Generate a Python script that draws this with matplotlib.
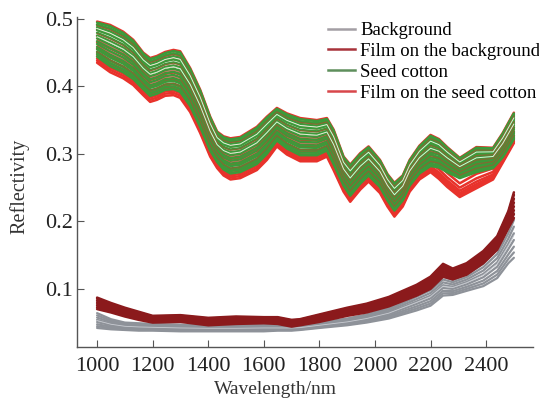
import matplotlib
matplotlib.use("Agg")
import matplotlib.pyplot as plt
import numpy as np

plt.rcParams['font.family'] = ['Liberation Serif', 'DejaVu Serif']

# ---- Upper group (seed cotton / film on seed cotton), wavelength nodes (nm)
wl_hi = [1000, 1047, 1094, 1130, 1166, 1191, 1215, 1245, 1275, 1299,
         1335, 1371, 1407, 1432, 1455, 1480, 1515, 1575, 1611, 1647,
         1683, 1731, 1791, 1827, 1851, 1887, 1911, 1947, 1977, 2018,
         2045, 2070, 2100, 2125, 2160, 2200, 2230, 2260, 2305, 2365,
         2425, 2460, 2500]
top_hi = [0.496, 0.491, 0.481, 0.469, 0.450, 0.442, 0.445, 0.451, 0.454, 0.452,
          0.427, 0.395, 0.355, 0.333, 0.326, 0.323, 0.325, 0.340, 0.355, 0.368,
          0.360, 0.353, 0.350, 0.353, 0.336, 0.296, 0.284, 0.301, 0.311, 0.291,
          0.270, 0.257, 0.268, 0.291, 0.312, 0.328, 0.322, 0.310, 0.294, 0.310,
          0.309, 0.331, 0.361]
red_bottom_hi = [0.435, 0.421, 0.412, 0.402, 0.387, 0.377, 0.380, 0.386, 0.387, 0.383,
                 0.362, 0.331, 0.296, 0.279, 0.268, 0.262, 0.264, 0.276, 0.291, 0.311,
                 0.299, 0.289, 0.289, 0.296, 0.276, 0.244, 0.229, 0.247, 0.259, 0.242,
                 0.222, 0.207, 0.222, 0.244, 0.262, 0.273, 0.263, 0.251, 0.236, 0.249,
                 0.262, 0.287, 0.316]
green_bottom_hi = [0.444, 0.430, 0.421, 0.411, 0.396, 0.386, 0.389, 0.395, 0.396, 0.392,
                   0.371, 0.340, 0.305, 0.288, 0.277, 0.271, 0.273, 0.285, 0.300, 0.320,
                   0.308, 0.298, 0.298, 0.305, 0.285, 0.253, 0.238, 0.256, 0.268, 0.251,
                   0.231, 0.216, 0.231, 0.253, 0.271, 0.282, 0.280, 0.273, 0.264, 0.273,
                   0.279, 0.295, 0.322]

# positions of individual spectra within each band (0 = band bottom, 1 = band top)
red_hi_pos = [0.0, 0.05, 0.1, 0.16, 0.24, 0.35, 0.5, 0.65, 0.8, 0.92, 1.0]
green_hi_pos = [0.0, 0.07, 0.14, 0.21, 0.28, 0.36, 0.44, 0.52, 0.6, 0.68, 0.76, 0.84, 0.91, 0.97]
red_streak_pos = [0.15, 0.32, 0.48, 0.66, 0.88]
light_pos = [0.57, 0.8]

# ---- Lower group (background / film on background)
wl_lo = [1000, 1050, 1100, 1150, 1200, 1300, 1400, 1500, 1600, 1650, 1700, 1730, 1800,
         1900, 1970, 2050, 2150, 2200, 2245, 2280, 2330, 2390, 2440, 2480, 2500]
dred_top = [0.087, 0.079, 0.072, 0.066, 0.060, 0.061, 0.057, 0.059, 0.058, 0.058, 0.054, 0.055, 0.062,
            0.072, 0.078, 0.088, 0.106, 0.118, 0.137, 0.130, 0.138, 0.156, 0.178, 0.215, 0.243]
dred_bottom = [0.070, 0.065, 0.059, 0.054, 0.050, 0.051, 0.046, 0.048, 0.049, 0.048, 0.044, 0.046, 0.051,
               0.060, 0.065, 0.074, 0.090, 0.100, 0.118, 0.114, 0.121, 0.138, 0.158, 0.190, 0.205]
gray_top = [0.064, 0.055, 0.050, 0.049, 0.048, 0.047, 0.046, 0.046, 0.047, 0.046, 0.046, 0.046, 0.050,
            0.056, 0.062, 0.072, 0.092, 0.102, 0.118, 0.113, 0.121, 0.137, 0.158, 0.190, 0.212]
gray_bottom = [0.042, 0.040, 0.039, 0.038, 0.038, 0.037, 0.037, 0.037, 0.037, 0.038, 0.038, 0.039, 0.042,
               0.046, 0.050, 0.056, 0.068, 0.075, 0.090, 0.091, 0.097, 0.104, 0.116, 0.138, 0.146]
dred_pos = [0.0, 0.15, 0.3, 0.45, 0.6, 0.75, 0.9, 1.0]
gray_pos = [0.0, 0.12, 0.25, 0.4, 0.55, 0.7, 0.85, 1.0]

labels = ["Background", "Film on the background", "Seed cotton", "Film on the seed cotton"]
colors = ["#8e9299", "#8b1a1c", "#3c9a3a", "#e8322b"]
legend_colors = ["#a39ea4", "#a8323a", "#5e8f5c", "#d8474a"]

xticks = [1000, 1200, 1400, 1600, 1800, 2000, 2200, 2400]
yticks = [0.1, 0.2, 0.3, 0.4, 0.5]


def band(bottom, top, f):
    b = np.asarray(bottom)
    t = np.asarray(top)
    return b + f * (t - b)


fig = plt.figure(figsize=(5.39, 4.01), dpi=100)
ax = fig.add_axes([0.143, 0.135, 0.846, 0.823])
kw = dict(solid_joinstyle="round", solid_capstyle="round")

for f in gray_pos:
    ax.plot(wl_lo, band(gray_bottom, gray_top, f), color=colors[0], lw=1.6, **kw)
ax.plot(wl_lo, band(gray_bottom, gray_top, 0.5), color="#c9ccd2", lw=0.6, **kw)
for f in dred_pos:
    ax.plot(wl_lo, band(dred_bottom, dred_top, f), color=colors[1], lw=1.8, **kw)

for f in red_hi_pos:
    ax.plot(wl_hi, band(red_bottom_hi, top_hi, f), color=colors[3], lw=1.8, **kw)
for f in green_hi_pos:
    ax.plot(wl_hi, band(green_bottom_hi, top_hi, f), color=colors[2], lw=1.8, **kw)
for f in red_streak_pos:
    ax.plot(wl_hi, band(green_bottom_hi, top_hi, f), color="#b04a2c", lw=0.9, alpha=0.6, **kw)
for f in light_pos:
    ax.plot(wl_hi, band(green_bottom_hi, top_hi, f), color="#dff2d8", lw=0.7, **kw)

handles = [plt.Line2D([], [], color=c, lw=1.8) for c in legend_colors]
fig.legend(handles, labels, loc="upper left", bbox_to_anchor=(0.609, 0.945),
           frameon=False, fontsize=13.5, handlelength=1.45, handletextpad=0.25,
           labelspacing=0.2, borderpad=0, borderaxespad=0)

ax.set_xlim(928, 2569)
ax.set_ylim(0.014, 0.503)
ax.set_xticks(xticks)
ax.set_yticks(yticks)
ax.set_yticklabels([f"{v:.1f}" for v in yticks])
ax.tick_params(direction="in", length=5, width=0.8, color="#555555",
               labelsize=16, labelcolor="#222222")
ax.tick_params(axis="x", pad=7)
ax.tick_params(axis="y", pad=3)
for s in ["top", "right"]:
    ax.spines[s].set_visible(False)
for s in ["left", "bottom"]:
    ax.spines[s].set_color("#555555")
    ax.spines[s].set_linewidth(1.0)

ax.set_xlabel("Wavelength/nm", fontsize=14, color="#333333")
ax.set_ylabel("Reflectivity", fontsize=14.5, color="#333333")
ax.xaxis.set_label_coords(0.436, -0.104)
ax.yaxis.set_label_coords(-0.105, 0.486)

fig.savefig("out.png", dpi=100)
